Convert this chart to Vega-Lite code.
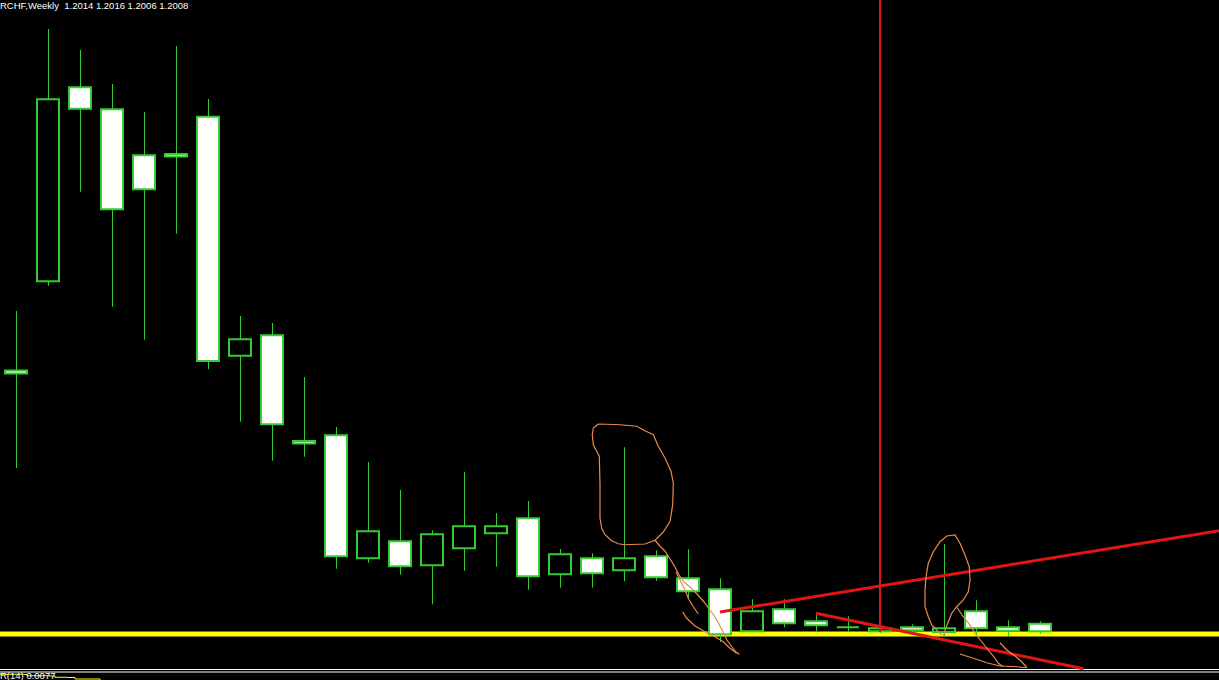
{
  "$schema": "https://vega.github.io/schema/vega-lite/v6.json",
  "width": 1219,
  "height": 680,
  "padding": 0,
  "autosize": {"type": "none"},
  "background": "#000000",
  "config": {"view": {"stroke": null}, "scale": {"continuousPadding": 0}},
  "datasets": {
    "candles": [
      {"i":0,"o":1.22166,"h":1.22642,"l":1.21386,"c":1.22142},
      {"i":1,"o":1.2288,"h":1.24898,"l":1.22844,"c":1.24336},
      {"i":2,"o":1.24432,"h":1.2473,"l":1.23596,"c":1.2426},
      {"i":3,"o":1.24256,"h":1.24458,"l":1.22676,"c":1.23456},
      {"i":4,"o":1.23888,"h":1.24234,"l":1.22412,"c":1.23616},
      {"i":5,"o":1.23898,"h":1.24762,"l":1.2326,"c":1.23878},
      {"i":6,"o":1.24196,"h":1.24338,"l":1.22176,"c":1.22242},
      {"i":7,"o":1.22284,"h":1.22602,"l":1.21756,"c":1.22416},
      {"i":8,"o":1.22448,"h":1.22546,"l":1.21444,"c":1.21736},
      {"i":9,"o":1.21602,"h":1.22114,"l":1.21476,"c":1.21582},
      {"i":10,"o":1.21648,"h":1.21714,"l":1.2058,"c":1.2068},
      {"i":11,"o":1.20664,"h":1.21434,"l":1.20628,"c":1.2088},
      {"i":12,"o":1.208,"h":1.2121,"l":1.20532,"c":1.206},
      {"i":13,"o":1.20608,"h":1.20888,"l":1.20296,"c":1.20856},
      {"i":14,"o":1.20744,"h":1.21354,"l":1.20564,"c":1.2092},
      {"i":15,"o":1.20864,"h":1.21026,"l":1.20596,"c":1.2092},
      {"i":16,"o":1.20984,"h":1.21122,"l":1.20412,"c":1.2052},
      {"i":17,"o":1.20536,"h":1.20738,"l":1.20428,"c":1.20696},
      {"i":18,"o":1.20664,"h":1.20704,"l":1.2043,"c":1.20544},
      {"i":19,"o":1.20568,"h":1.21552,"l":1.2048,"c":1.20664},
      {"i":20,"o":1.2068,"h":1.20728,"l":1.20484,"c":1.20512},
      {"i":21,"o":1.20504,"h":1.20736,"l":1.20348,"c":1.204},
      {"i":22,"o":1.20416,"h":1.20504,"l":1.19994,"c":1.20056},
      {"i":23,"o":1.2008,"h":1.20336,"l":1.20072,"c":1.2024},
      {"i":24,"o":1.20256,"h":1.20336,"l":1.20112,"c":1.20144},
      {"i":25,"o":1.2016,"h":1.20216,"l":1.2008,"c":1.20128},
      {"i":26,"o":1.20112,"h":1.202,"l":1.2008,"c":1.20112},
      {"i":27,"o":1.2008,"h":1.2013,"l":1.20066,"c":1.20104},
      {"i":28,"o":1.20112,"h":1.20136,"l":1.20066,"c":1.20088},
      {"i":29,"o":1.20074,"h":1.20778,"l":1.20034,"c":1.20104},
      {"i":30,"o":1.2024,"h":1.20328,"l":1.20042,"c":1.20104},
      {"i":31,"o":1.20112,"h":1.20168,"l":1.20042,"c":1.20084},
      {"i":32,"o":1.2014,"h":1.2016,"l":1.2006,"c":1.2008}
    ],
    "trend": [
      {"id":"up","k":0,"i":22,"p":1.20234},
      {"id":"up","k":1,"i":37.594,"p":1.20884},
      {"id":"dn","k":0,"i":25,"p":1.20224},
      {"id":"dn","k":1,"i":33.353,"p":1.1978}
    ],
    "vline": [{"i":27,"top":1.2513,"bottom":1.20074}],
    "level": [{"p":1.20058}],
    "separator": [{"p":1.19774},{"p":1.19754}],
    "atr": [
      {"k":0,"i":-0.5,"p":1.19736},
      {"k":1,"i":0.281,"p":1.19734},
      {"k":2,"i":0.344,"p":1.19724},
      {"k":3,"i":1.063,"p":1.19722},
      {"k":4,"i":1.219,"p":1.19712},
      {"k":5,"i":1.594,"p":1.1971},
      {"k":6,"i":1.844,"p":1.19698},
      {"k":7,"i":2.625,"p":1.19682}
    ],
    "labels": [
      {"t":"RCHF,Weekly\u00a0 1.2014 1.2016 1.2006 1.2008","i":-0.5,"p":1.25062},
      {"t":"R(14) 0.0077","i":-0.5,"p":1.19698}
    ],
    "drawing": [
      {"s":"A","k":0,"i":18.197,"p":1.21738},
      {"s":"A","k":1,"i":18.041,"p":1.21706},
      {"s":"A","k":2,"i":18.009,"p":1.21652},
      {"s":"A","k":3,"i":18.041,"p":1.21572},
      {"s":"A","k":4,"i":18.147,"p":1.2152},
      {"s":"A","k":5,"i":18.228,"p":1.2148},
      {"s":"A","k":6,"i":18.25,"p":1.21252},
      {"s":"A","k":7,"i":18.25,"p":1.20986},
      {"s":"A","k":8,"i":18.303,"p":1.20906},
      {"s":"A","k":9,"i":18.406,"p":1.20852},
      {"s":"A","k":10,"i":18.616,"p":1.20804},
      {"s":"A","k":11,"i":18.822,"p":1.2078},
      {"s":"A","k":12,"i":19.031,"p":1.20772},
      {"s":"A","k":13,"i":19.656,"p":1.20778},
      {"s":"A","k":14,"i":19.969,"p":1.20808},
      {"s":"A","k":15,"i":20.228,"p":1.20874},
      {"s":"A","k":16,"i":20.438,"p":1.2096},
      {"s":"A","k":17,"i":20.522,"p":1.21092},
      {"s":"A","k":18,"i":20.541,"p":1.21266},
      {"s":"A","k":19,"i":20.469,"p":1.2136},
      {"s":"A","k":20,"i":20.281,"p":1.21466},
      {"s":"A","k":21,"i":20.072,"p":1.2156},
      {"s":"A","k":22,"i":19.916,"p":1.21652},
      {"s":"A","k":23,"i":19.656,"p":1.21684},
      {"s":"A","k":24,"i":19.397,"p":1.2172},
      {"s":"A","k":25,"i":18.875,"p":1.21732},
      {"s":"A","k":26,"i":18.197,"p":1.21738},
      {"s":"B","k":0,"i":19.969,"p":1.20808},
      {"s":"B","k":1,"i":20.125,"p":1.2076},
      {"s":"B","k":2,"i":20.281,"p":1.20722},
      {"s":"B","k":3,"i":20.438,"p":1.20658},
      {"s":"B","k":4,"i":20.594,"p":1.20594},
      {"s":"B","k":5,"i":20.719,"p":1.2053},
      {"s":"B","k":6,"i":20.875,"p":1.20474},
      {"s":"B","k":7,"i":21.063,"p":1.20434},
      {"s":"B","k":8,"i":21.281,"p":1.20378},
      {"s":"B","k":9,"i":21.5,"p":1.20314},
      {"s":"B","k":10,"i":21.688,"p":1.2025},
      {"s":"B","k":11,"i":21.844,"p":1.20194},
      {"s":"B","k":12,"i":21.969,"p":1.20138},
      {"s":"B","k":13,"i":22.094,"p":1.20074},
      {"s":"B","k":14,"i":22.219,"p":1.2001},
      {"s":"B","k":15,"i":22.375,"p":1.19954},
      {"s":"B","k":16,"i":22.5,"p":1.19914},
      {"s":"B","k":17,"i":22.603,"p":1.19896},
      {"s":"C","k":0,"i":20.625,"p":1.20554},
      {"s":"C","k":1,"i":20.75,"p":1.2049},
      {"s":"C","k":2,"i":20.906,"p":1.2041},
      {"s":"C","k":3,"i":21.009,"p":1.20344},
      {"s":"C","k":4,"i":21.166,"p":1.20276},
      {"s":"C","k":5,"i":21.322,"p":1.20218},
      {"s":"D","k":0,"i":20.834,"p":1.20236},
      {"s":"D","k":1,"i":20.959,"p":1.20184},
      {"s":"D","k":2,"i":21.219,"p":1.20122},
      {"s":"D","k":3,"i":21.531,"p":1.20076},
      {"s":"D","k":4,"i":21.844,"p":1.20036},
      {"s":"D","k":5,"i":22.103,"p":1.19996},
      {"s":"D","k":6,"i":22.313,"p":1.19944},
      {"s":"D","k":7,"i":22.522,"p":1.19904},
      {"s":"E","k":0,"i":28.928,"p":1.2005},
      {"s":"E","k":1,"i":28.772,"p":1.2009},
      {"s":"E","k":2,"i":28.616,"p":1.2013},
      {"s":"E","k":3,"i":28.509,"p":1.20196},
      {"s":"E","k":4,"i":28.406,"p":1.20276},
      {"s":"E","k":5,"i":28.406,"p":1.2041},
      {"s":"E","k":6,"i":28.438,"p":1.20516},
      {"s":"E","k":7,"i":28.509,"p":1.20624},
      {"s":"E","k":8,"i":28.666,"p":1.20716},
      {"s":"E","k":9,"i":28.875,"p":1.20796},
      {"s":"E","k":10,"i":29.084,"p":1.20842},
      {"s":"E","k":11,"i":29.344,"p":1.2085},
      {"s":"E","k":12,"i":29.5,"p":1.20784},
      {"s":"E","k":13,"i":29.656,"p":1.2069},
      {"s":"E","k":14,"i":29.791,"p":1.20596},
      {"s":"E","k":15,"i":29.813,"p":1.2049},
      {"s":"E","k":16,"i":29.759,"p":1.20396},
      {"s":"E","k":17,"i":29.603,"p":1.2033},
      {"s":"E","k":18,"i":29.397,"p":1.20276},
      {"s":"E","k":19,"i":29.241,"p":1.20224},
      {"s":"E","k":20,"i":29.134,"p":1.20156},
      {"s":"E","k":21,"i":29.031,"p":1.2009},
      {"s":"E","k":22,"i":28.978,"p":1.20036},
      {"s":"F","k":0,"i":29.397,"p":1.20272},
      {"s":"F","k":1,"i":29.603,"p":1.20196},
      {"s":"F","k":2,"i":29.813,"p":1.2013},
      {"s":"F","k":3,"i":29.969,"p":1.20064},
      {"s":"F","k":4,"i":30.178,"p":1.19996},
      {"s":"F","k":5,"i":30.384,"p":1.1993},
      {"s":"F","k":6,"i":30.594,"p":1.19864},
      {"s":"F","k":7,"i":30.697,"p":1.19824},
      {"s":"F","k":8,"i":30.853,"p":1.19796},
      {"s":"G","k":0,"i":29.5,"p":1.19898},
      {"s":"G","k":1,"i":29.916,"p":1.19864},
      {"s":"G","k":2,"i":30.334,"p":1.19828},
      {"s":"G","k":3,"i":30.75,"p":1.19802},
      {"s":"G","k":4,"i":31.272,"p":1.19796},
      {"s":"G","k":5,"i":31.584,"p":1.19788},
      {"s":"H","k":0,"i":30.75,"p":1.19988},
      {"s":"H","k":1,"i":30.959,"p":1.1993},
      {"s":"H","k":2,"i":31.219,"p":1.19882},
      {"s":"H","k":3,"i":31.428,"p":1.19836},
      {"s":"H","k":4,"i":31.584,"p":1.19792}
    ]
  },
  "layer": [
    {
      "data": {"name": "level"},
      "mark": {"type": "rule", "color": "#ffff00", "strokeWidth": 5},
      "encoding": {
        "y": {"field": "p", "type": "quantitative", "scale": {"domain": [1.1969, 1.2513], "zero": false, "nice": false}, "axis": null}
      }
    },
    {
      "data": {"name": "candles"},
      "mark": {"type": "rule", "color": "#32cd32", "strokeWidth": 1, "xOffset": 0.5},
      "encoding": {
        "x": {"field": "i", "type": "quantitative", "scale": {"domain": [-0.5, 37.59375], "zero": false, "nice": false, "padding": 0}, "axis": null},
        "y": {"field": "l", "type": "quantitative", "scale": {"domain": [1.1969, 1.2513], "zero": false, "nice": false}, "axis": null},
        "y2": {"field": "h"}
      }
    },
    {
      "data": {"name": "candles"},
      "mark": {"type": "bar", "size": 22, "stroke": "#32cd32", "strokeWidth": 2},
      "encoding": {
        "x": {"field": "i", "type": "quantitative", "scale": {"domain": [-0.5, 37.59375], "zero": false, "nice": false, "padding": 0}, "axis": null},
        "y": {"field": "o", "type": "quantitative", "scale": {"domain": [1.1969, 1.2513], "zero": false, "nice": false}, "axis": null},
        "y2": {"field": "c"},
        "fill": {"condition": {"test": "datum.o > datum.c", "value": "#ffffff"}, "value": "#000000"}
      }
    },
    {
      "data": {"name": "separator"},
      "mark": {"type": "rule", "color": "#ffffff", "strokeWidth": 1},
      "encoding": {
        "y": {"field": "p", "type": "quantitative", "scale": {"domain": [1.1969, 1.2513], "zero": false, "nice": false}, "axis": null}
      }
    },
    {
      "data": {"name": "atr"},
      "mark": {"type": "line", "color": "#ffff00", "strokeWidth": 1, "interpolate": "step-after"},
      "encoding": {
        "x": {"field": "i", "type": "quantitative", "scale": {"domain": [-0.5, 37.59375], "zero": false, "nice": false, "padding": 0}, "axis": null},
        "y": {"field": "p", "type": "quantitative", "scale": {"domain": [1.1969, 1.2513], "zero": false, "nice": false}, "axis": null},
        "order": {"field": "k"}
      }
    },
    {
      "data": {"name": "vline"},
      "mark": {"type": "rule", "color": "#e01818", "strokeWidth": 2},
      "encoding": {
        "x": {"field": "i", "type": "quantitative", "scale": {"domain": [-0.5, 37.59375], "zero": false, "nice": false, "padding": 0}, "axis": null},
        "y": {"field": "top", "type": "quantitative", "scale": {"domain": [1.1969, 1.2513], "zero": false, "nice": false}, "axis": null},
        "y2": {"field": "bottom"}
      }
    },
    {
      "data": {"name": "trend"},
      "mark": {"type": "line", "color": "#e31414", "strokeWidth": 3},
      "encoding": {
        "x": {"field": "i", "type": "quantitative", "scale": {"domain": [-0.5, 37.59375], "zero": false, "nice": false, "padding": 0}, "axis": null},
        "y": {"field": "p", "type": "quantitative", "scale": {"domain": [1.1969, 1.2513], "zero": false, "nice": false}, "axis": null},
        "detail": {"field": "id"},
        "order": {"field": "k"}
      }
    },
    {
      "data": {"name": "drawing"},
      "mark": {"type": "line", "color": "#ea8a4e", "strokeWidth": 1.2},
      "encoding": {
        "x": {"field": "i", "type": "quantitative", "scale": {"domain": [-0.5, 37.59375], "zero": false, "nice": false, "padding": 0}, "axis": null},
        "y": {"field": "p", "type": "quantitative", "scale": {"domain": [1.1969, 1.2513], "zero": false, "nice": false}, "axis": null},
        "detail": {"field": "s"},
        "order": {"field": "k"}
      }
    },
    {
      "data": {"name": "labels"},
      "mark": {"type": "text", "align": "left", "baseline": "alphabetic", "font": "Liberation Sans", "fontSize": 9.5, "color": "#ffffff"},
      "encoding": {
        "x": {"field": "i", "type": "quantitative", "scale": {"domain": [-0.5, 37.59375], "zero": false, "nice": false, "padding": 0}, "axis": null},
        "y": {"field": "p", "type": "quantitative", "scale": {"domain": [1.1969, 1.2513], "zero": false, "nice": false}, "axis": null},
        "text": {"field": "t"}
      }
    }
  ]
}
